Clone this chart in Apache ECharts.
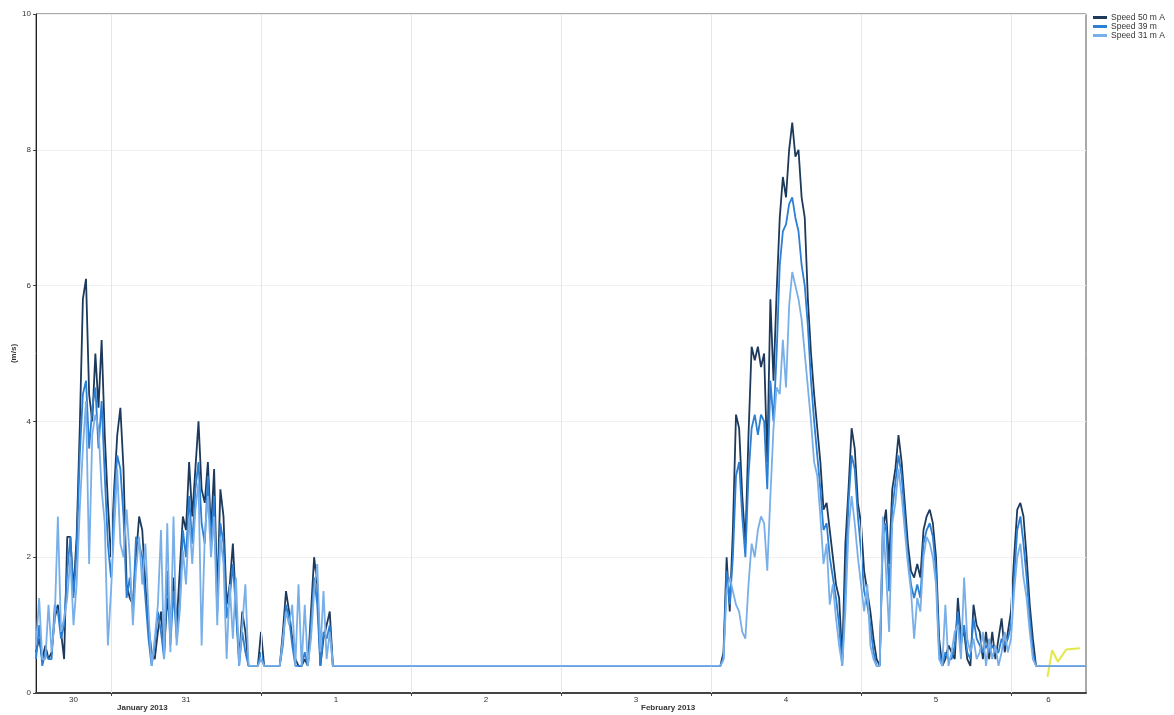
<!DOCTYPE html>
<html>
<head>
<meta charset="utf-8">
<script src="https://cdn.jsdelivr.net/npm/echarts@6/dist/echarts.min.js"></script>
<style>
  html, body { margin: 0; padding: 0; background: #ffffff; }
  #chart { width: 1174px; height: 715px; }
</style>
</head>
<body>
<div id="chart"></div>
<script>
// Wind speed at three mast heights, 30-minute samples (m/s)
const SERIES_NAMES = ['Speed 50 m A', 'Speed 39 m', 'Speed 31 m A'];
const SERIES_COLORS = ['#1d3a5c', '#2b7fd4', '#78afe8'];

const AXIS_START = Date.UTC(2013, 0, 30, 12, 0);
const AXIS_END = Date.UTC(2013, 1, 6, 12, 0);
const SAMPLE_MS = 30 * 60 * 1000;

// first logging period starts Jan 30 12:00, second Feb 4 01:30
const PART1_START = Date.UTC(2013, 0, 30, 12, 0);
const PART2_START = Date.UTC(2013, 1, 4, 1, 30);

const speed50_part1 = [
  0.6, 0.8, 0.5, 0.7, 0.5, 0.6, 1.1, 1.3, 0.9, 0.5,
  2.3, 2.3, 1.5, 2.3, 3.9, 5.8, 6.1, 4.4, 4.0, 5.0,
  4.2, 5.2, 3.8, 2.8, 2.0, 3.0, 3.8, 4.2, 3.3, 1.6,
  1.4, 1.3, 2.0, 2.6, 2.4, 1.6, 1.0, 0.6, 0.5, 0.9,
  1.2, 0.6, 1.4, 1.0, 1.7, 1.0, 1.8, 2.6, 2.4, 3.4,
  2.6, 3.3, 4.0, 3.0, 2.8, 3.4, 2.4, 3.3, 1.4, 3.0,
  2.6, 1.3, 1.6, 2.2, 1.3, 0.5, 1.2, 0.9, 0.4, 0.4,
  0.4, 0.4, 0.9, 0.4, 0.4, 0.4, 0.4, 0.4, 0.4, 0.9,
  1.5, 1.2, 0.8, 0.5, 0.4, 0.4, 0.5, 0.4, 1.2, 2.0,
  1.6, 0.4, 0.8, 1.0, 1.2, 0.4, 0.4
];
const speed39_part1 = [
  0.5, 1.0, 0.4, 0.6, 0.5, 0.5, 1.3, 1.2, 0.8, 1.0,
  1.8, 2.3, 1.4, 2.1, 3.5, 4.4, 4.6, 3.6, 4.2, 4.5,
  3.6, 4.3, 3.2, 2.2, 1.7, 2.8, 3.5, 3.3, 2.6, 1.4,
  1.7, 1.2, 2.3, 2.2, 2.0, 1.4, 0.8, 0.4, 0.7, 1.2,
  0.9, 0.5, 1.8, 0.7, 1.5, 0.8, 1.3, 2.4, 2.0, 2.9,
  2.2, 3.0, 3.4, 2.5, 2.2, 3.2, 2.2, 2.9, 1.2, 2.5,
  2.2, 1.1, 1.4, 1.9, 1.2, 0.4, 0.9, 0.6, 0.4, 0.4,
  0.4, 0.4, 0.6, 0.4, 0.4, 0.4, 0.4, 0.4, 0.4, 0.7,
  1.3, 1.1, 0.7, 0.4, 0.4, 0.4, 0.6, 0.4, 1.0, 1.7,
  1.3, 0.4, 0.9, 0.8, 1.0, 0.4, 0.4
];
const speed31_part1 = [
  0.7, 1.4, 0.5, 0.5, 1.3, 0.6, 1.1, 2.6, 0.9, 1.1,
  1.4, 2.0, 1.0, 1.6, 2.7, 3.6, 4.3, 1.9, 3.8, 4.1,
  3.9, 3.0, 2.5, 0.7, 1.5, 2.4, 3.3, 2.2, 2.0, 2.7,
  2.0, 1.0, 1.8, 2.3, 1.6, 2.2, 1.2, 0.4, 0.8, 1.3,
  2.4, 0.5, 2.5, 0.6, 2.6, 0.7, 1.2, 2.1, 1.6, 2.6,
  1.9, 2.7, 3.1, 0.7, 2.3, 2.9, 2.0, 2.6, 1.0, 2.3,
  1.9, 0.5, 1.6, 0.8, 1.7, 0.4, 1.0, 1.6, 0.4, 0.4,
  0.4, 0.4, 0.5, 0.4, 0.4, 0.4, 0.4, 0.4, 0.4, 0.8,
  1.2, 1.0, 1.3, 0.4, 1.6, 0.4, 1.3, 0.4, 0.8, 1.5,
  1.9, 0.6, 1.5, 0.5, 0.9, 0.4, 0.4
];

const speed50_part2 = [
  0.4, 0.6, 2.0, 1.2, 2.4, 4.1, 3.9, 2.9, 2.2, 3.8,
  5.1, 4.9, 5.1, 4.8, 5.0, 3.4, 5.8, 4.6, 5.9, 7.0,
  7.6, 7.3, 8.0, 8.4, 7.9, 8.0, 7.3, 7.0, 5.8, 5.0,
  4.4, 3.9, 3.4, 2.7, 2.8, 2.4, 2.0, 1.6, 1.4, 0.5,
  2.2, 3.0, 3.9, 3.6, 2.8, 2.5, 1.8, 1.5, 1.2, 0.8,
  0.5, 0.4, 2.4, 2.7, 1.9, 3.0, 3.3, 3.8, 3.4, 2.8,
  2.2, 1.8, 1.7, 1.9, 1.7, 2.4, 2.6, 2.7, 2.5, 2.0,
  0.8, 0.4, 0.5, 0.7, 0.6, 0.5, 1.4, 0.8, 0.9, 0.5,
  0.4, 1.3, 1.0, 0.9, 0.5, 0.9, 0.5, 0.9, 0.5, 0.8,
  1.1, 0.6, 0.9, 1.2, 2.0, 2.7, 2.8, 2.6, 2.0, 1.3,
  0.8, 0.4
];
const speed39_part2 = [
  0.4, 0.5, 1.8, 1.3, 2.0, 3.2, 3.4, 2.6, 2.0, 3.2,
  3.9, 4.1, 3.8, 4.1, 4.0, 3.0, 4.6, 4.0, 5.0, 6.3,
  6.8, 6.9, 7.2, 7.3, 7.0, 6.8, 6.3, 6.0, 5.4, 4.6,
  4.0, 3.5, 3.0, 2.4, 2.5, 2.0, 1.7, 1.4, 1.0, 0.4,
  1.6, 2.8, 3.5, 3.3, 2.6, 2.1, 1.5, 1.3, 1.0, 0.6,
  0.4, 0.4, 2.3, 2.5, 1.5, 2.7, 3.1, 3.5, 3.2, 2.6,
  2.0, 1.6, 1.4, 1.6, 1.4, 2.2, 2.4, 2.5, 2.3, 1.8,
  0.6, 0.4, 0.6, 0.5, 0.5, 0.7, 1.2, 0.7, 1.0, 0.6,
  0.5, 1.1, 0.8, 0.7, 0.6, 0.7, 0.6, 0.7, 0.6, 0.6,
  0.8, 0.7, 0.8, 1.0, 1.7, 2.4, 2.6, 2.2, 1.7, 1.1,
  0.6, 0.4
];
const speed31_part2 = [
  0.4, 0.5, 1.5, 1.7, 1.5, 1.3, 1.2, 0.9, 0.8, 1.6,
  2.2, 2.0, 2.4, 2.6, 2.5, 1.8, 2.9, 3.9, 4.5, 4.4,
  5.2, 4.5, 5.7, 6.2, 6.0, 5.8, 5.5, 5.0, 4.5, 4.0,
  3.4, 3.2, 2.6, 1.9, 2.2, 1.3, 1.6, 1.1, 0.7, 0.4,
  1.2, 2.4, 2.9, 2.5, 2.0, 1.6, 1.2, 1.6, 0.7, 0.5,
  0.4, 0.4, 2.6, 1.8, 0.9, 2.5, 2.8, 3.3, 2.9, 2.4,
  1.9, 1.5, 0.8, 1.4, 1.2, 2.0, 2.3, 2.2, 2.0, 1.6,
  0.5, 0.4, 1.3, 0.4, 0.6, 0.9, 1.0, 0.5, 1.7, 0.8,
  0.6, 0.8, 0.5, 0.6, 0.9, 0.4, 0.8, 0.5, 0.7, 0.4,
  0.6, 0.9, 0.6, 0.8, 1.5, 2.0, 2.2, 1.7, 1.4, 0.9,
  0.5, 0.4
];

// value held until the end of the axis
const tailValues = [0.4, 0.4, 0.4];

// short trace near the end of the record (not in the legend)
const extraTraceTimes = [
  Date.UTC(2013, 1, 6, 5, 50), Date.UTC(2013, 1, 6, 6, 35), Date.UTC(2013, 1, 6, 7, 30),
  Date.UTC(2013, 1, 6, 8, 10), Date.UTC(2013, 1, 6, 8, 50), Date.UTC(2013, 1, 6, 11, 0)
];
const extraTraceValues = [0.24, 0.63, 0.46, 0.55, 0.64, 0.66];

// axis ticks at midnight, day labels in the middle of each visible day
const midnightTicks = [
  Date.UTC(2013, 0, 31), Date.UTC(2013, 1, 1), Date.UTC(2013, 1, 2), Date.UTC(2013, 1, 3),
  Date.UTC(2013, 1, 4), Date.UTC(2013, 1, 5), Date.UTC(2013, 1, 6)
];
const dayLabelTimes = [
  Date.UTC(2013, 0, 30, 18), Date.UTC(2013, 0, 31, 12), Date.UTC(2013, 1, 1, 12), Date.UTC(2013, 1, 2, 12),
  Date.UTC(2013, 1, 3, 12), Date.UTC(2013, 1, 4, 12), Date.UTC(2013, 1, 5, 12), Date.UTC(2013, 1, 6, 6)
];
const dayLabels = ['30', '31', '1', '2', '3', '4', '5', '6'];
const monthLabels = ['January 2013', 'February 2013'];

function buildSeriesData(part1, part2, tail) {
  const pts = [];
  part1.forEach((v, i) => pts.push([PART1_START + i * SAMPLE_MS, v]));
  part2.forEach((v, i) => pts.push([PART2_START + i * SAMPLE_MS, v]));
  pts.push([AXIS_END, tail]);
  return pts;
}

const allParts = [
  [speed50_part1, speed50_part2],
  [speed39_part1, speed39_part2],
  [speed31_part1, speed31_part2]
];

const chart = echarts.init(document.getElementById('chart'), null, { renderer: 'canvas' });

const series = SERIES_NAMES.map((name, k) => ({
  name: name,
  type: 'line',
  data: buildSeriesData(allParts[k][0], allParts[k][1], tailValues[k]),
  showSymbol: false,
  symbol: 'none',
  lineStyle: { color: SERIES_COLORS[k], width: 1.8 },
  itemStyle: { color: SERIES_COLORS[k] },
  z: 3 + k,
  silent: true
}));

series.push({
  name: 'trace',
  type: 'line',
  data: extraTraceTimes.map((t, i) => [t, extraTraceValues[i]]),
  showSymbol: false,
  symbol: 'none',
  lineStyle: { color: '#e3e847', width: 2 },
  z: 2,
  silent: true
});

// light vertical day dividers
series.push({
  name: 'dividers',
  type: 'line',
  data: [[AXIS_START, null]],
  silent: true,
  markLine: {
    silent: true,
    symbol: ['none', 'none'],
    label: { show: false },
    lineStyle: { color: '#e6e6e6', width: 1, type: 'solid' },
    data: midnightTicks.map(t => ({ xAxis: t }))
  },
  z: 1
});

const option = {
  animation: false,
  backgroundColor: '#ffffff',
  textStyle: { fontFamily: '"Liberation Sans", Arial, sans-serif' },
  grid: {
    left: 36, right: 88, top: 14, bottom: 22,
    outerBoundsMode: 'none',
    containLabel: false,
    show: true, borderColor: '#555', borderWidth: 1, backgroundColor: 'transparent'
  },
  legend: {
    data: SERIES_NAMES,
    orient: 'vertical',
    left: 1093, top: 13,
    itemWidth: 14, itemHeight: 3, itemGap: 0,
    icon: 'rect',
    textStyle: { fontSize: 8.5, color: '#333', padding: [0, 0, 0, -1], lineHeight: 9 },
    padding: 0
  },
  xAxis: {
    type: 'value',
    min: AXIS_START,
    max: AXIS_END,
    axisLine: { show: true, lineStyle: { color: '#444', width: 2 } },
    axisTick: { show: true, length: 3, customValues: midnightTicks, lineStyle: { color: '#444' } },
    splitLine: { show: false },
    axisLabel: {
      customValues: dayLabelTimes,
      fontSize: 8,
      color: '#333',
      margin: 3,
      formatter: (v) => {
        const i = dayLabelTimes.indexOf(v);
        return i >= 0 ? dayLabels[i] : '';
      }
    }
  },
  yAxis: {
    type: 'value',
    min: 0, max: 10, interval: 2,
    name: '(m/s)',
    nameLocation: 'middle',
    nameGap: 18,
    nameMoveOverlap: false,
    nameTextStyle: { fontSize: 8, fontWeight: 'bold', color: '#333' },
    axisLine: { show: true, lineStyle: { color: '#222', width: 1 } },
    axisTick: { show: true, length: 3, lineStyle: { color: '#444' } },
    axisLabel: { fontSize: 8, color: '#333', margin: 5 },
    splitLine: { show: true, lineStyle: { color: '#f0f0f0', width: 1 } }
  },
  graphic: [
    { type: 'text', left: 117, top: 704, style: { text: monthLabels[0], font: 'bold 8px "Liberation Sans", Arial, sans-serif', fill: '#333' } },
    { type: 'text', left: 641, top: 704, style: { text: monthLabels[1], font: 'bold 8px "Liberation Sans", Arial, sans-serif', fill: '#333' } }
  ],
  series: series
};

chart.setOption(option);
</script>
</body>
</html>
